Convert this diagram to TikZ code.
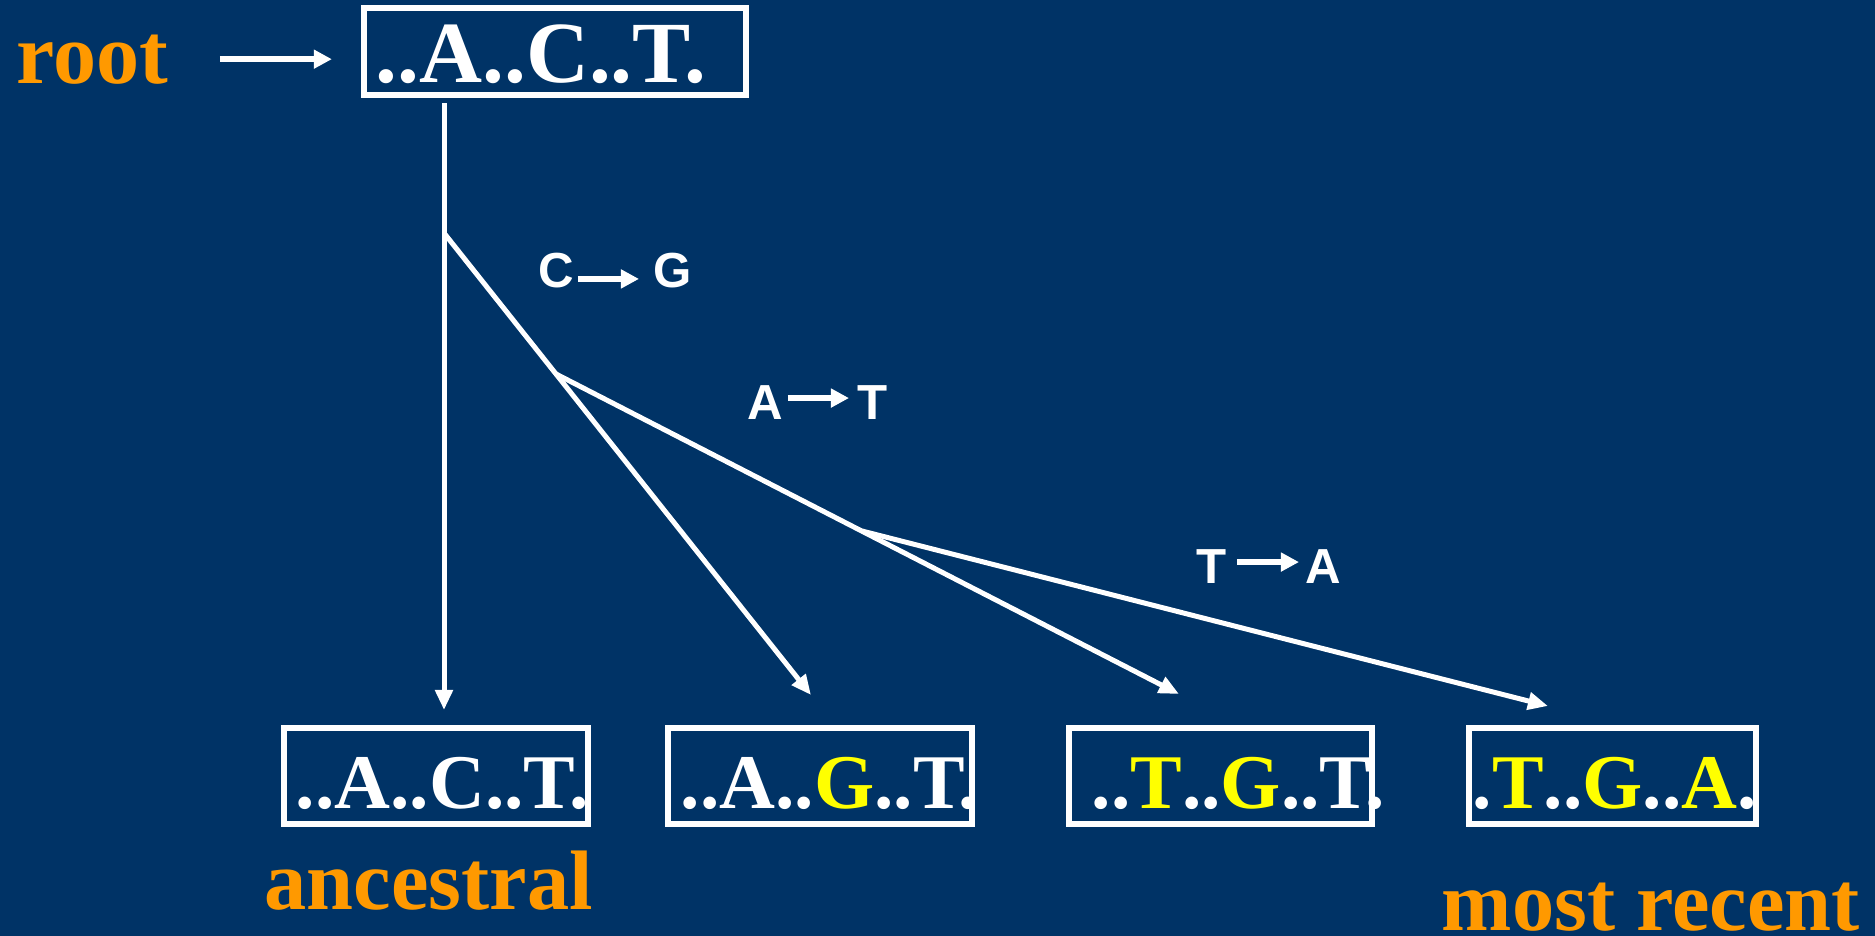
\documentclass[tikz,border=0pt]{standalone}
\usepackage{fontspec}
\setmainfont{Liberation Serif}
\newfontfamily\mutfont{Liberation Sans}
\usetikzlibrary{arrows.meta}
\definecolor{slidebg}{RGB}{0,51,102}
\definecolor{tagorange}{RGB}{255,153,0}
\definecolor{mutyellow}{RGB}{255,255,0}
\newcommand{\mut}[1]{\textcolor{mutyellow}{#1}}

\begin{document}
\begin{tikzpicture}[x=0.01cm, y=-0.01cm,
  seqbox/.style={draw=white, line width=0.06cm, text=white, inner ysep=0pt, align=left,
    font=\bfseries\fontsize{22}{27}\selectfont, minimum height=0.96cm, text height=0.64cm, text depth=0pt},
  rootbox/.style={seqbox, font=\bfseries\fontsize{24.8}{30}\selectfont, minimum height=0.87cm, text height=0.61cm},
  tag/.style={text=tagorange, inner sep=0pt, anchor=base west, font=\bfseries\fontsize{24}{29}\selectfont},
  mutlbl/.style={text=white, inner sep=0pt, anchor=base west, font=\mutfont\bfseries\fontsize{14}{17}\selectfont},
  branch/.style={draw=white, line width=0.05cm, -{Triangle[length=0.2cm, width=0.17cm]}},
  mutarrow/.style={draw=white, line width=0.06cm, -{Triangle[length=0.18cm, width=0.18cm]}}]
\fill[slidebg] (0,0) rectangle (1875,936);
\useasboundingbox (0,0) rectangle (1875,936);

\node[tag, font=\bfseries\fontsize{24.5}{29}\selectfont] (rootlbl) at (16,83) {root};
\node[rootbox, text width=3.58cm, inner xsep=0.12cm] (root) at (555,51.5) {..A..C..T.};
\draw[mutarrow, shorten <=0.51cm, shorten >=0.29cm] (rootlbl.east) -- (rootlbl.east -| root.west);

\node[seqbox, text width=2.80cm, inner xsep=0.12cm] (anc) at (436,776) {..A..C..T.};
\node[seqbox, text width=2.78cm, inner xsep=0.13cm] (seqb) at (820,776) {..A..\mut{G}..T.};
\node[seqbox, text width=2.57cm, inner xsep=0.23cm] (seqc) at (1220.5,776) {..\mut{T}..\mut{G}..T.};
\node[seqbox, text width=2.79cm, inner xsep=0.04cm] (seqd) at (1612.5,776) {.\mut{T}..\mut{G}..\mut{A}.};
\node[tag] (anclbl) at (264,909) {ancestral};
\node[tag] (recentlbl) at (1441,930) {most recent};

\coordinate (b1) at (444,233);
\coordinate (b2) at (556,374);
\coordinate (b3) at (862,531);
\coordinate (tipA) at (444,710);
\coordinate (tipB) at (811,695);
\coordinate (tipC) at (1179,694);
\coordinate (tipD) at (1548,706);
\draw[branch, shorten <=0.05cm] (root.south -| tipA) -- (tipA);
\draw[branch] (b1) -- (tipB);
\draw[branch] (b2) -- (tipC);
\draw[branch] (b3) -- (tipD);

\node[mutlbl] (cfrom) at (538,287) {C};
\node[mutlbl] (cto) at (653,287) {G};
\draw[mutarrow, shorten <=0.03cm, shorten >=0.14cm] (cfrom.mid east) -- (cto.mid west);
\node[mutlbl] (afrom) at (747,419) {A};
\node[mutlbl] (ato) at (857,419) {T};
\draw[mutarrow, shorten <=0.04cm, shorten >=0.08cm] ([yshift=0.04cm]afrom.east) -- ([yshift=0.04cm]ato.west);
\node[mutlbl] (tfrom) at (1196,583) {T};
\node[mutlbl] (tto) at (1305,583) {A};
\draw[mutarrow, shorten <=0.10cm, shorten >=0.06cm] ([yshift=0.04cm]tfrom.east) -- ([yshift=0.04cm]tto.west);
\end{tikzpicture}
\end{document}
